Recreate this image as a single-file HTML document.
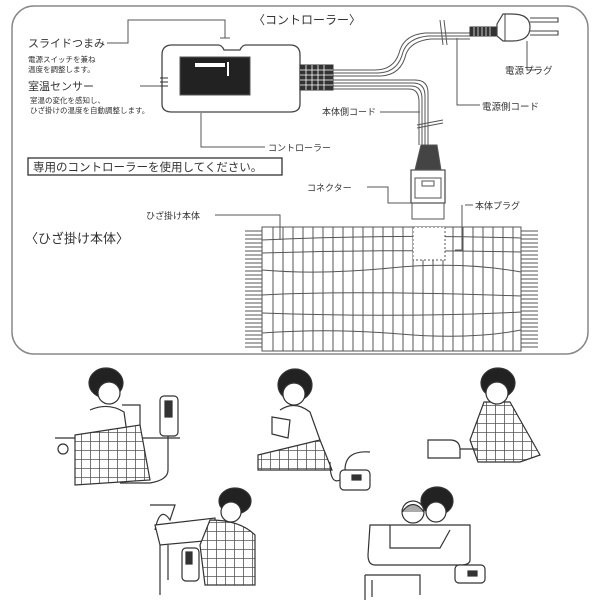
<!DOCTYPE html>
<html><head><meta charset="utf-8"><style>
html,body{margin:0;padding:0;background:#fff;}
svg{display:block;}
text{font-family:"Liberation Sans","Noto Sans CJK JP",sans-serif;fill:#333;}
</style></head><body>
<svg width="600" height="600" viewBox="0 0 600 600" xmlns="http://www.w3.org/2000/svg">
<defs>
<pattern id="plaid" width="9" height="9" patternUnits="userSpaceOnUse">
<rect width="9" height="9" fill="#fff"/>
<path d="M0 0.5H9M0.5 0V9" stroke="#555" stroke-width="0.8"/>
</pattern>
</defs>
<g fill="none" stroke="#555" stroke-width="1">
<rect x="12" y="6" width="576" height="348" rx="22" stroke="#888" stroke-width="1.5"/>
<path d="M172 45 H218 q4 0 6 5 H240 q2 -5 6 -5 H290 q10 0 10 10 V104 q0 8 -10 8 H172 q-10 0 -10 -8 V55 q0 -10 10 -10Z" stroke="#444" stroke-width="1.3"/>
<rect x="180" y="57" width="70" height="38" fill="#222"/>
<rect x="195" y="63" width="30" height="4" fill="#fff" stroke="none"/>
<rect x="227" y="62" width="2" height="14" fill="#fff" stroke="none"/>
<path d="M160 78h8M160 82h8M160 86h8" stroke="#333"/>
<path d="M107 43 H128 V20 H225 V38 M220 38h10" />
<path d="M140 86 H160"/>
<path d="M201 113 V147 H265"/>
<rect x="300" y="65" width="33" height="25" fill="#333" stroke="#333"/>
<path d="M300 70h33M300 75h33M300 80h33M300 85h33M306 65v25M312 65v25M318 65v25M324 65v25" stroke="#fff" stroke-width="0.8"/>
<path d="M333 70 H375 Q395 70 400 50 Q405 35 425 33 H470"/>
<path d="M333 73 H377 Q398 73 403 52 Q408 38 428 36 H470"/>
<path d="M333 76 H379 Q401 76 406 54 Q411 41 431 39 H470"/>
<path d="M333 80 H415 Q428 80 428 93 V145"/>
<path d="M333 83 H413 Q425 83 425 96 V145"/>
<path d="M333 86 H411 Q422 86 422 99 V145"/>
<path d="M333 89 H409 Q419 89 419 102 V145"/>
<path d="M417 125 L443 120 M417 128 L443 123"/>
<path d="M440 20 L443 45 M444 20 L447 45"/>
<!-- power plug -->
<rect x="470" y="27" width="27" height="9" fill="#333" stroke="#333"/>
<path d="M474 27v9M478 27v9M482 27v9M486 27v9M490 27v9" stroke="#fff" stroke-width="0.7"/>
<path d="M497 24 L503 14 H512 Q530 14 530 27 Q530 41 512 41 H503 L497 36Z" fill="#fff" stroke="#444" stroke-width="1.2"/>
<path d="M505 14 V41" stroke="#444"/>
<path d="M530 18 H558 V22 H530 M530 31 H558 V35 H530" stroke="#444" stroke-width="1.1"/>
<path d="M527 41 V70 H536"/>
<path d="M457 38 V105 H480"/>
<path d="M380 112 H420"/>
<path d="M421 145 H437 L441 170 H415Z" fill="#444"/>
<path d="M411 170 H445 V203 H411Z" stroke-width="1.3"/>
<rect x="415" y="178" width="26" height="20"/>
<rect x="422" y="181" width="12" height="5"/>
<rect x="412" y="203" width="32" height="16"/>
<path d="M367 187 H388 V203 H411"/>
<path d="M465 205 H473 M462 205 V250 H455"/>
<rect x="262" y="227" width="259" height="124"/>
<g stroke="#555">
<path d="M273 227v124M283 227v124M293 227v124M303 227v124M313 227v124M323 227v124M333 227v124M343 227v124M353 227v124M363 227v124M373 227v124M383 227v124M393 227v124M403 227v124M413 227v124M423 227v124M433 227v124M443 227v124M453 227v124M463 227v124M473 227v124M483 227v124M493 227v124M503 227v124M513 227v124"/>
<path d="M262 240 Q390 234 521 238 M262 253 Q390 249 521 252 M262 270 Q320 275 390 268 T521 272 M262 295 Q350 290 521 296 M262 313 Q400 318 521 312 M262 333 Q330 328 400 334 T521 330"/>
</g>
<path d="M245 231h17M245 235h17M245 239h17M245 243h17M245 247h17M245 251h17M245 255h17M245 259h17M245 263h17M245 267h17M245 271h17M245 275h17M245 279h17M245 283h17M245 287h17M245 291h17M245 295h17M245 299h17M245 303h17M245 307h17M245 311h17M245 315h17M245 319h17M245 323h17M245 327h17M245 331h17M245 335h17M245 339h17M245 343h17M245 347h17"/>
<path d="M521 231h17M521 235h17M521 239h17M521 243h17M521 247h17M521 251h17M521 255h17M521 259h17M521 263h17M521 267h17M521 271h17M521 275h17M521 279h17M521 283h17M521 287h17M521 291h17M521 295h17M521 299h17M521 303h17M521 307h17M521 311h17M521 315h17M521 319h17M521 323h17M521 327h17M521 331h17M521 335h17M521 339h17M521 343h17M521 347h17"/>
<rect x="413" y="227" width="32" height="33" fill="#fff" stroke-dasharray="2 2"/>
<path d="M215 215 H280 V240"/>
<rect x="28" y="158" width="254" height="17" stroke="#333" stroke-width="1.3"/>
</g>
<text x="253" y="24" font-size="12">〈コントローラー〉</text>
<text x="28" y="47" font-size="11">スライドつまみ</text>
<text x="28" y="62" font-size="7.5">電源スイッチを兼ね</text>
<text x="28" y="72" font-size="7.5">温度を調整します。</text>
<text x="28" y="90" font-size="11">室温センサー</text>
<text x="30" y="103" font-size="7.5">室温の変化を感知し、</text>
<text x="30" y="113" font-size="7.5">ひざ掛けの温度を自動調整します。</text>
<text x="268" y="151" font-size="9">コントローラー</text>
<text x="33" y="171" font-size="11.5">専用のコントローラーを使用してください。</text>
<text x="505" y="74" font-size="9.5">電源プラグ</text>
<text x="482" y="110" font-size="9.5">電源側コード</text>
<text x="322" y="115" font-size="9">本体側コード</text>
<text x="307" y="191" font-size="9">コネクター</text>
<text x="475" y="209" font-size="9">本体プラグ</text>
<text x="146" y="219" font-size="9">ひざ掛け本体</text>
<text x="25" y="243" font-size="13">〈ひざ掛け本体〉</text>

<g stroke="#333" stroke-width="1.2">
<!-- 1 -->
<path d="M90 410 Q108 402 124 412 L128 440" fill="#fff"/>
<path d="M122 405 H140 V440" fill="none"/>
<path d="M55 438 H180" fill="none"/>
<path d="M75 435 L140 425 L150 480 L75 485Z" fill="url(#plaid)"/>
<circle cx="63" cy="449" r="5" fill="none"/>
<ellipse cx="106" cy="383" rx="17" ry="15" fill="#222"/>
<ellipse cx="109" cy="393" rx="11" ry="11" fill="#fff"/>
<rect x="160" y="396" width="18" height="40" rx="4" fill="#fff"/>
<rect x="165" y="401" width="7" height="16" fill="#333"/>
<path d="M168 436 V470 Q168 480 150 483 H120" fill="none"/>
<!-- 2 -->
<path d="M280 410 Q295 400 310 412 L320 440" fill="#fff"/>
<path d="M272 417 L290 420 L288 438 L272 434Z" fill="#fff"/>
<path d="M258 455 L320 440 L332 470 L258 470Z" fill="url(#plaid)"/>
<ellipse cx="295" cy="385" rx="17" ry="16" fill="#222"/>
<ellipse cx="294" cy="394" rx="11" ry="11" fill="#fff"/>
<rect x="340" y="470" width="30" height="20" rx="4" fill="#fff"/>
<rect x="352" y="475" width="9" height="5" fill="#333"/>
<path d="M330 462 Q330 485 340 480 M345 470 Q345 450 370 452" fill="none"/>
<!-- 3 -->
<path d="M484 402 L510 402 L540 455 L520 462 L478 462 L470 440Z" fill="url(#plaid)"/>
<ellipse cx="498" cy="383" rx="17" ry="15" fill="#222"/>
<ellipse cx="497" cy="393" rx="11" ry="11" fill="#fff"/>
<path d="M428 440 H450 Q460 440 460 450 V458 H428Z" fill="#fff"/>
<path d="M460 449 H478" fill="none"/>
<!-- 4 -->
<path d="M150 505 L175 505 L170 520 Q160 505 155 530" fill="none"/>
<path d="M155 525 L215 518 L215 540 L160 545Z" fill="#fff"/>
<path d="M160 545 V595 M168 545 V580" fill="none"/>
<path d="M210 520 Q240 520 255 535 L255 585 L205 585 L200 545Z" fill="url(#plaid)"/>
<ellipse cx="235" cy="501" rx="16" ry="13" fill="#222"/>
<ellipse cx="231" cy="512" rx="10" ry="10" fill="#fff"/>
<rect x="182" y="548" width="17" height="33" rx="4" fill="#fff"/>
<rect x="186" y="552" width="6" height="12" fill="#333"/>
<!-- 5 -->
<path d="M370 525 H470 V560 Q470 565 460 565 H375 Q368 565 368 555Z" fill="#fff"/>
<path d="M390 525 V548 L440 548 L450 530" fill="none"/>
<ellipse cx="437" cy="501" rx="16" ry="14" fill="#222"/>
<ellipse cx="436" cy="512" rx="10" ry="10" fill="#fff"/>
<circle cx="413" cy="512" r="11" fill="#fff"/>
<path d="M402 512 Q413 497 424 512" fill="#aaa"/>
<path d="M365 575 H420 V595 M365 575 V600 M372 580 V597" fill="none"/>
<rect x="455" y="565" width="30" height="18" rx="4" fill="#fff"/>
<rect x="468" y="571" width="9" height="5" fill="#333"/>
</g>
</svg>
</body></html>
